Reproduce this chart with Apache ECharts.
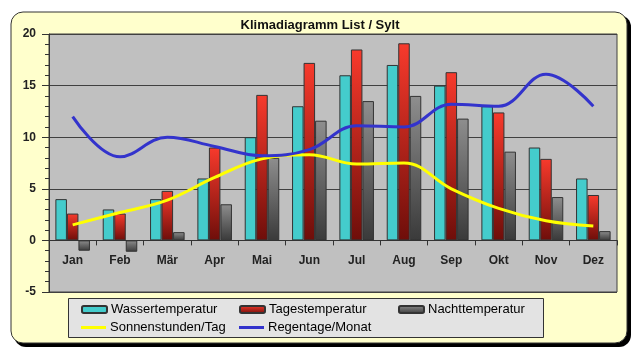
<!DOCTYPE html>
<html><head><meta charset="utf-8">
<script src="https://cdn.jsdelivr.net/npm/echarts@6/dist/echarts.min.js"></script>
<style>html,body{margin:0;padding:0;background:#fff}#c{width:640px;height:363px}</style>
</head><body><div id="c"></div>
<script>
var months = ['Jan','Feb','Mär','Apr','Mai','Jun','Jul','Aug','Sep','Okt','Nov','Dez'];
var wasser = [4, 3, 4, 6, 10, 13, 16, 17, 15, 13, 9, 6];
var tages = [2.6, 2.6, 4.8, 9, 14.1, 17.2, 18.5, 19.1, 16.3, 12.4, 7.9, 4.4];
var nacht = [-1, -1.1, 0.8, 3.5, 8, 11.6, 13.5, 14, 11.8, 8.6, 4.2, 0.9];
var sonne = [1.5, 2.7, 3.9, 6.1, 7.9, 8.3, 7.4, 7.5, 5.0, 3.1, 1.9, 1.4];
var regen = [12, 8.1, 10, 9.1, 8.2, 8.8, 11.1, 11, 13.2, 13, 16.1, 13];
var yTicks = [-5, 0, 5, 10, 15, 20];

var F = 'Liberation Sans, Arial, sans-serif';
function grad(a, b) {
  return new echarts.graphic.LinearGradient(0, 0, 0, 1, [{offset: 0, color: a}, {offset: 1, color: b}]);
}
var names = ['Wassertemperatur', 'Tagestemperatur', 'Nachttemperatur', 'Sonnenstunden/Tag', 'Regentage/Monat'];
var legPos = [[81, 303], [239, 303], [398, 303], [81, 321], [239, 321]];
var lineIcon = 'path://M0,0 L25,0 L25,3 L0,3 Z';
var legends = names.map(function (n, i) {
  var o = {
    data: [n], left: legPos[i][0], top: legPos[i][1], padding: 0,
    itemWidth: 25, itemHeight: 7, itemGap: 0,
    textStyle: {fontFamily: F, fontSize: 13, color: '#000', padding: [0, 0, 0, -1]}
  };
  if (i >= 3) { o.icon = lineIcon; o.itemHeight = 3; }
  return o;
});

var grid = {left: 49, right: 23, top: 34, bottom: 71};
var plotH = 363 - grid.top - grid.bottom;
var zeroOffset = -plotH * (0 - yTicks[0]) / (yTicks[yTicks.length - 1] - yTicks[0]);

var chart = echarts.init(document.getElementById('c'), null, {renderer: 'canvas'});
chart.setOption({
  animation: false,
  backgroundColor: '#fff',
  title: {
    text: 'Klimadiagramm List / Sylt', left: 'center', top: 14,
    textStyle: {fontFamily: F, fontSize: 13, fontWeight: 'bold', color: '#111'}
  },
  graphic: [
    {type: 'rect', z: -100, shape: {x: 14, y: 15, width: 617, height: 332, r: 12}, style: {fill: '#000'}},
    {type: 'rect', z: -99, shape: {x: 11, y: 12, width: 616, height: 331, r: 12}, style: {fill: '#FFFFCC', stroke: '#333', lineWidth: 1}},
    {type: 'rect', z: -98, shape: {x: 68.5, y: 298.5, width: 475, height: 39}, style: {fill: '#E3E3E3', stroke: '#333', lineWidth: 1}}
  ],
  legend: legends,
  grid: {
    left: grid.left, right: grid.right, top: grid.top, bottom: grid.bottom,
    show: true, backgroundColor: '#C0C0C0', borderColor: '#404040', borderWidth: 1
  },
  xAxis: {
    type: 'category', data: months, boundaryGap: true, position: 'bottom', offset: zeroOffset,
    axisLine: {onZero: false, lineStyle: {color: '#333', width: 1}},
    axisTick: {show: true, alignWithLabel: false, length: 5, lineStyle: {color: '#333'}},
    axisLabel: {margin: 14, fontFamily: F, fontSize: 12, fontWeight: 'bold', color: '#222'}
  },
  yAxis: {
    type: 'value', min: yTicks[0], max: yTicks[yTicks.length - 1], interval: 5,
    axisLine: {show: true, lineStyle: {color: '#333'}},
    axisTick: {show: true, length: 7, lineStyle: {color: '#333'}},
    minorTick: {show: true, splitNumber: 5, length: 4, lineStyle: {color: '#333'}},
    splitLine: {show: true, lineStyle: {color: '#404040', width: 1}},
    axisLabel: {margin: 13, fontFamily: F, fontSize: 12, fontWeight: 'bold', color: '#222'}
  },
  series: [
    {name: names[0], type: 'bar', data: wasser, barGap: '0%', barCategoryGap: '27%',
      itemStyle: {color: '#44CCCC', borderColor: '#333', borderWidth: 1}},
    {name: names[1], type: 'bar', data: tages,
      itemStyle: {color: grad('#F83A2C', '#6E0E0A'), borderColor: '#333', borderWidth: 1}},
    {name: names[2], type: 'bar', data: nacht,
      itemStyle: {color: grad('#8E8E8E', '#3A3A3A'), borderColor: '#333', borderWidth: 1}},
    {name: names[3], type: 'line', data: sonne, smooth: 0.4, symbol: 'none', z: 5,
      lineStyle: {color: '#FFFF00', width: 3}, itemStyle: {color: '#FFFF00'}},
    {name: names[4], type: 'line', data: regen, smooth: 0.4, symbol: 'none', z: 5,
      lineStyle: {color: '#3333CC', width: 3}, itemStyle: {color: '#3333CC'}}
  ]
});
</script></body></html>
